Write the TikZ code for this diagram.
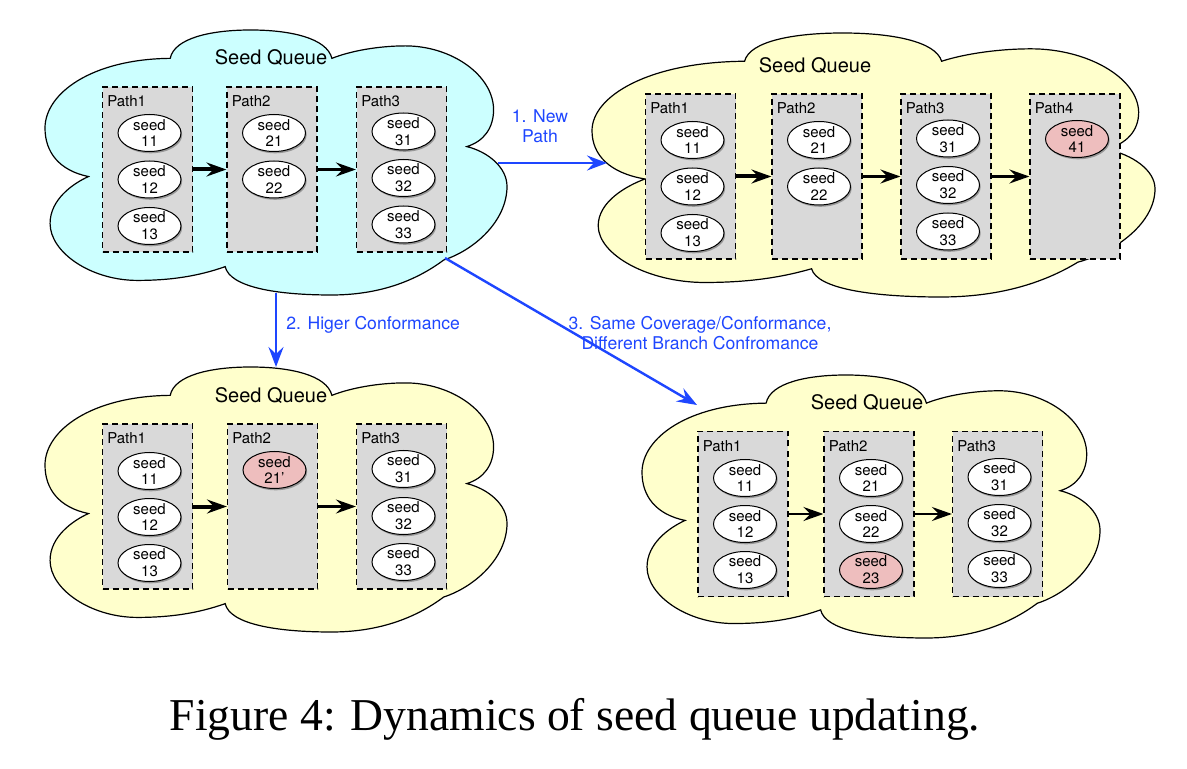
\documentclass[tikz,border=0pt]{standalone}
\usepackage{fontspec}
\setmainfont{Liberation Serif}
\setsansfont{TeX Gyre Heros}
\usetikzlibrary{arrows.meta,shapes.geometric,shadows,calc}

\definecolor{cloudcyan}{RGB}{204,255,255}
\definecolor{cloudyellow}{RGB}{255,255,204}
\definecolor{boxgray}{RGB}{217,217,217}
\definecolor{seedpink}{RGB}{238,190,190}
\definecolor{qblue}{RGB}{30,70,255}

\newcommand{\drawcloud}[5]{%
  \begin{scope}[shift={(#1,#2)},xscale=#3,yscale=#4]
    \filldraw[cloudline, fill=#5] (0.094,0.553)
      .. controls (0.03,0.53) and (0,0.46) .. (0,0.37)
      .. controls (0,0.24) and (0.1,0.11) .. (0.271,0.107)
      .. controls (0.28,0.03) and (0.36,0) .. (0.445,0)
      .. controls (0.53,0) and (0.61,0.03) .. (0.621,0.107)
      .. controls (0.66,0.08) and (0.72,0.06) .. (0.78,0.06)
      .. controls (0.88,0.06) and (0.97,0.17) .. (0.971,0.30)
      .. controls (0.971,0.37) and (0.95,0.42) .. (0.913,0.44)
      .. controls (0.96,0.46) and (1,0.52) .. (1,0.59)
      .. controls (1,0.72) and (0.93,0.83) .. (0.863,0.868)
      .. controls (0.8,0.95) and (0.72,1) .. (0.62,1)
      .. controls (0.5,1) and (0.4,0.97) .. (0.39,0.893)
      .. controls (0.33,0.93) and (0.27,0.945) .. (0.2,0.945)
      .. controls (0.1,0.945) and (0.011,0.84) .. (0.011,0.73)
      .. controls (0.011,0.64) and (0.06,0.58) .. (0.094,0.553) -- cycle;
  \end{scope}}

\newcommand{\pathboxat}[4]{% name, x, y, label
  \node[pathbox] (#1) at (#2,#3) {};
  \node[pathlabel] (#1l) at ($(#1.north west)+(5,15)$) {#4};}

\newcommand{\seedat}[5]{% name, box, dy, number, fill
  \node[seednode, fill=#5] (#1) at ($(#2.center)+(2,#3)$) {seed\\#4};}

\begin{document}
\begin{tikzpicture}[x=0.5pt,y=-0.5pt,
  cloudline/.style={draw=black, line width=0.6pt},
  pathbox/.style={rectangle, draw=black, fill=boxgray, line width=0.6pt,
    dash pattern=on 3pt off 2pt, minimum width=45pt, minimum height=82.5pt, inner sep=0pt},
  pathlabel/.style={anchor=west, inner sep=0pt, font=\sffamily\fontsize{7.5}{8.5}\selectfont},
  seednode/.style={ellipse, draw=black, line width=0.5pt, minimum width=31.5pt,
    minimum height=18.5pt, inner xsep=0pt, inner ysep=-1.5pt, align=center,
    font=\sffamily\fontsize{7.5}{8.4}\selectfont,
    drop shadow={shadow xshift=0.6pt, shadow yshift=-0.9pt, opacity=0.3, fill=black}},
  cloudtitle/.style={inner sep=0pt, font=\sffamily\fontsize{10}{12}\selectfont},
  thickarrow/.style={draw=black, line width=2pt, -{Stealth[length=10pt,width=7pt,inset=3.5pt]}},
  thinarrow/.style={draw=black, line width=1.2pt, -{Stealth[length=10pt,width=7pt,inset=3.5pt]}},
  bluearrow/.style={draw=qblue, line width=1.2pt, -{Stealth[length=10pt,width=7.5pt,inset=3.5pt]}},
  bluelabel/.style={inner sep=0pt, text=qblue, align=center, font=\sffamily\fontsize{8.8}{10}\selectfont}]

\useasboundingbox (0,0) rectangle (1187,769);

% clouds
\drawcloud{45}{30}{462}{265}{cloudcyan}
\drawcloud{592}{33}{563}{264}{cloudyellow}
\drawcloud{45}{367}{462}{265}{cloudyellow}
\drawcloud{642}{375}{458}{263}{cloudyellow}

% cloud titles
\node[cloudtitle] (t1) at (271,58) {Seed Queue};
\node[cloudtitle] (t2) at (815,66) {Seed Queue};
\node[cloudtitle] (t3) at (271,396) {Seed Queue};
\node[cloudtitle] (t4) at (867,403) {Seed Queue};

% cloud 1
\pathboxat{a1}{147.5}{169.5}{Path1}
\pathboxat{a2}{272}{169.5}{Path2}
\pathboxat{a3}{401.5}{169.5}{Path3}
\seedat{a11}{a1}{-36.5}{11}{white}
\seedat{a12}{a1}{10}{12}{white}
\seedat{a13}{a1}{56.5}{13}{white}
\seedat{a21}{a2}{-36.5}{21}{white}
\seedat{a22}{a2}{10}{22}{white}
\seedat{a31}{a3}{-38}{31}{white}
\seedat{a32}{a3}{8.5}{32}{white}
\seedat{a33}{a3}{55}{33}{white}
\draw[thickarrow] (a1.east) -- (a2.west);
\draw[thinarrow] (a2.east) -- (a3.west);

% cloud 2
\pathboxat{b1}{690.5}{176.5}{Path1}
\pathboxat{b2}{817}{176.5}{Path2}
\pathboxat{b3}{946}{176.5}{Path3}
\pathboxat{b4}{1075}{176.5}{Path4}
\seedat{b11}{b1}{-36.5}{11}{white}
\seedat{b12}{b1}{10}{12}{white}
\seedat{b13}{b1}{56.5}{13}{white}
\seedat{b21}{b2}{-36.5}{21}{white}
\seedat{b22}{b2}{10}{22}{white}
\seedat{b31}{b3}{-38}{31}{white}
\seedat{b32}{b3}{8.5}{32}{white}
\seedat{b33}{b3}{55}{33}{white}
\seedat{b41}{b4}{-37.5}{41}{seedpink}
\draw[thickarrow] (b1.east) -- (b2.west);
\draw[thinarrow] (b2.east) -- (b3.west);
\draw[thinarrow] (b3.east) -- (b4.west);

% cloud 3
\pathboxat{c1}{147.5}{506.5}{Path1}
\pathboxat{c2}{272.5}{506.5}{Path2}
\pathboxat{c3}{401.5}{506.5}{Path3}
\seedat{c11}{c1}{-35.5}{11}{white}
\seedat{c12}{c1}{10.5}{12}{white}
\seedat{c13}{c1}{56.5}{13}{white}
\seedat{c21}{c2}{-36.5}{21’}{seedpink}
\seedat{c31}{c3}{-37.5}{31}{white}
\seedat{c32}{c3}{9.5}{32}{white}
\seedat{c33}{c3}{55.5}{33}{white}
\draw[thickarrow] (c1.east) -- (c2.west);
\draw[thinarrow] (c2.east) -- (c3.west);

% cloud 4
\pathboxat{d1}{743}{514}{Path1}
\pathboxat{d2}{869}{514}{Path2}
\pathboxat{d3}{997.5}{514}{Path3}
\seedat{d11}{d1}{-36}{11}{white}
\seedat{d12}{d1}{10}{12}{white}
\seedat{d13}{d1}{56}{13}{white}
\seedat{d21}{d2}{-36}{21}{white}
\seedat{d22}{d2}{10}{22}{white}
\seedat{d23}{d2}{56}{23}{seedpink}
\seedat{d31}{d3}{-37}{31}{white}
\seedat{d32}{d3}{9}{32}{white}
\seedat{d33}{d3}{55}{33}{white}
\draw[thinarrow] (d1.east) -- (d2.west);
\draw[thinarrow] (d2.east) -- (d3.west);

% blue transitions
\coordinate (q1s) at (498,163);
\coordinate (q1e) at (607,163);
\coordinate (q2s) at (276,293);
\coordinate (q2e) at (276,367);
\coordinate (q3s) at (445,258);
\coordinate (q3e) at (697,405);
\draw[bluearrow] (q1s) -- (q1e);
\draw[bluearrow] (q2s) -- (q2e);
\draw[bluearrow] (q3s) -- (q3e);
\node[bluelabel] (l1) at (540,126) {1. New\\Path};
\node[bluelabel, anchor=west] (l2) at (286,325) {2. Higer Conformance};
\node[bluelabel] (l3) at (700,333) {3. Same Coverage/Conformance,\\Different Branch Confromance};

% caption
\node[inner sep=0pt, anchor=base, font=\rmfamily\fontsize{22.8}{27}\selectfont] (cap) at (575,730) {Figure 4: Dynamics of seed queue updating.};
\end{tikzpicture}
\end{document}
